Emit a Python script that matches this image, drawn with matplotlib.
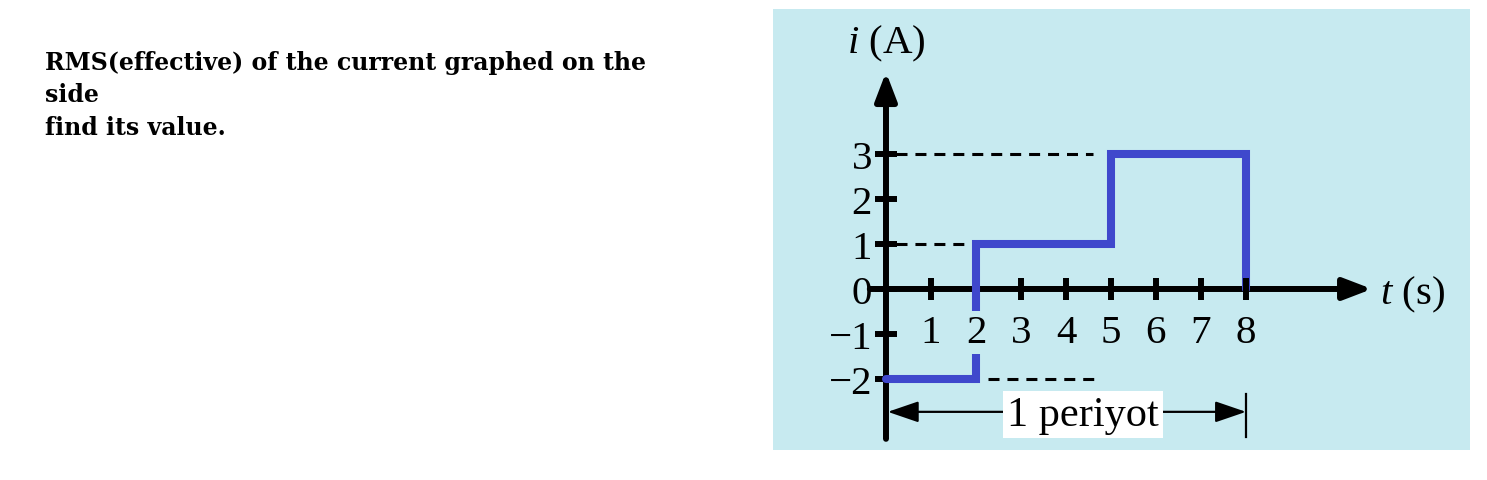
import matplotlib
matplotlib.use('Agg')
import matplotlib.pyplot as plt

# Akım dalga biçimi (bir periyot)
t_pts = [0, 2, 2, 5, 5, 8, 8]
i_pts = [-2, -2, 1, 1, 3, 3, 0]

x_ticks = [1, 2, 3, 4, 5, 6, 7, 8]
y_ticks = [-2, -1, 0, 1, 2, 3]
y_tick_labels = ['\u22122', '\u22121', '0', '1', '2', '3']

# Kesikli yardımcı çizgiler: (seviye, başlangıç, bitiş)
guides = [(3, 0.22, 4.6), (1, 0.22, 1.8), (-2, 2.27, 4.75)]

period_start, period_end = 0, 8
period_label = '1 periyot'

question = ['RMS(effective) of the current graphed on the', 'side', 'find its value.']

bg = '#c7eaf0'
blue = '#3f48cc'
serif = 'Liberation Serif'

plt.rcParams['mathtext.fontset'] = 'custom'
plt.rcParams['mathtext.it'] = 'Liberation Serif:italic'
plt.rcParams['mathtext.rm'] = 'Liberation Serif'

fig = plt.figure(figsize=(14.87, 4.81), dpi=100)

# Soru metni
for k, line in enumerate(question):
    fig.text(45 / 1487, 1 - (70 + 32.5 * k) / 481, line, fontsize=17, fontweight='bold',
             family='DejaVu Serif', va='baseline', ha='left')

ax = fig.add_axes([773 / 1487, 1 - 451 / 481, 697 / 1487, 441 / 481])
ax.set_facecolor(bg)
ax.set_xlim(-2.511, 12.978)
ax.set_ylim(-3.578, 6.222)

# eksenler ok ile
axis_kw = dict(arrowstyle='-|>,head_length=17,head_width=6.5', lw=4.3, color='k',
               mutation_scale=1, shrinkA=0, shrinkB=0)
ax.annotate('', xy=(10.8, 0), xytext=(-0.36, 0), arrowprops=axis_kw, zorder=2)
ax.annotate('', xy=(0, 4.82), xytext=(0, -3.33), arrowprops=axis_kw, zorder=2)

for s in ax.spines.values():
    s.set_visible(False)
ax.spines['left'].set_position(('data', 0))
ax.spines['bottom'].set_position(('data', 0))

ax.set_xticks(x_ticks)
ax.set_xticklabels([str(v) for v in x_ticks])
ax.set_yticks(y_ticks)
ax.set_yticklabels(y_tick_labels)
ax.tick_params(axis='both', direction='inout', length=16, width=4.3, labelsize=29.5,
               colors='k')
ax.tick_params(axis='x', pad=10)
ax.tick_params(axis='y', pad=2)
for lab in ax.get_xticklabels() + ax.get_yticklabels():
    lab.set_family(serif)
for lab in ax.get_xticklabels():
    lab.set_bbox(dict(facecolor=bg, edgecolor='none', pad=2.5))
ax.xaxis.set_zorder(4)
# 2'deki çentik mavi çizginin altında kalıyor
ax.xaxis.get_major_ticks()[x_ticks.index(2)].tick1line.set_visible(False)

# kesikli çizgiler
for lvl, a, b in guides:
    ln, = ax.plot([a, b], [lvl, lvl], color='k', lw=2.2, zorder=2)
    ln.set_dashes((3.6, 2.6))

# akım
ax.plot(t_pts, i_pts, color=blue, lw=5.8, solid_joinstyle='miter',
        solid_capstyle='round', zorder=3)

# eksen etiketleri
ax.text(0, 5.46, '$i$ (A)', fontsize=29.5, family=serif, ha='center', va='center')
ax.text(10.98, -0.12, '$t$ (s)', fontsize=29.5, family=serif, ha='left', va='center')

# periyot gösterimi
per_y = -2.73
ax.text((period_start + period_end) / 2 + 0.38, per_y - 0.06, period_label,
        fontsize=30.5, family=serif, ha='center', va='center', zorder=5,
        bbox=dict(facecolor='white', edgecolor='none', pad=3))
arr_kw = dict(arrowstyle='-|>,head_length=19,head_width=6.5', lw=1.6, color='k',
              mutation_scale=1, shrinkA=0, shrinkB=0)
ax.annotate('', xy=(period_start + 0.04, per_y), xytext=(2.7, per_y), arrowprops=arr_kw, zorder=4)
ax.annotate('', xy=(period_end, per_y), xytext=(6.1, per_y), arrowprops=arr_kw, zorder=4)
ax.plot([period_end, period_end], [per_y + 0.4, per_y - 0.55], color='k', lw=1.6, zorder=4)

fig.savefig('out.png', dpi=100)
